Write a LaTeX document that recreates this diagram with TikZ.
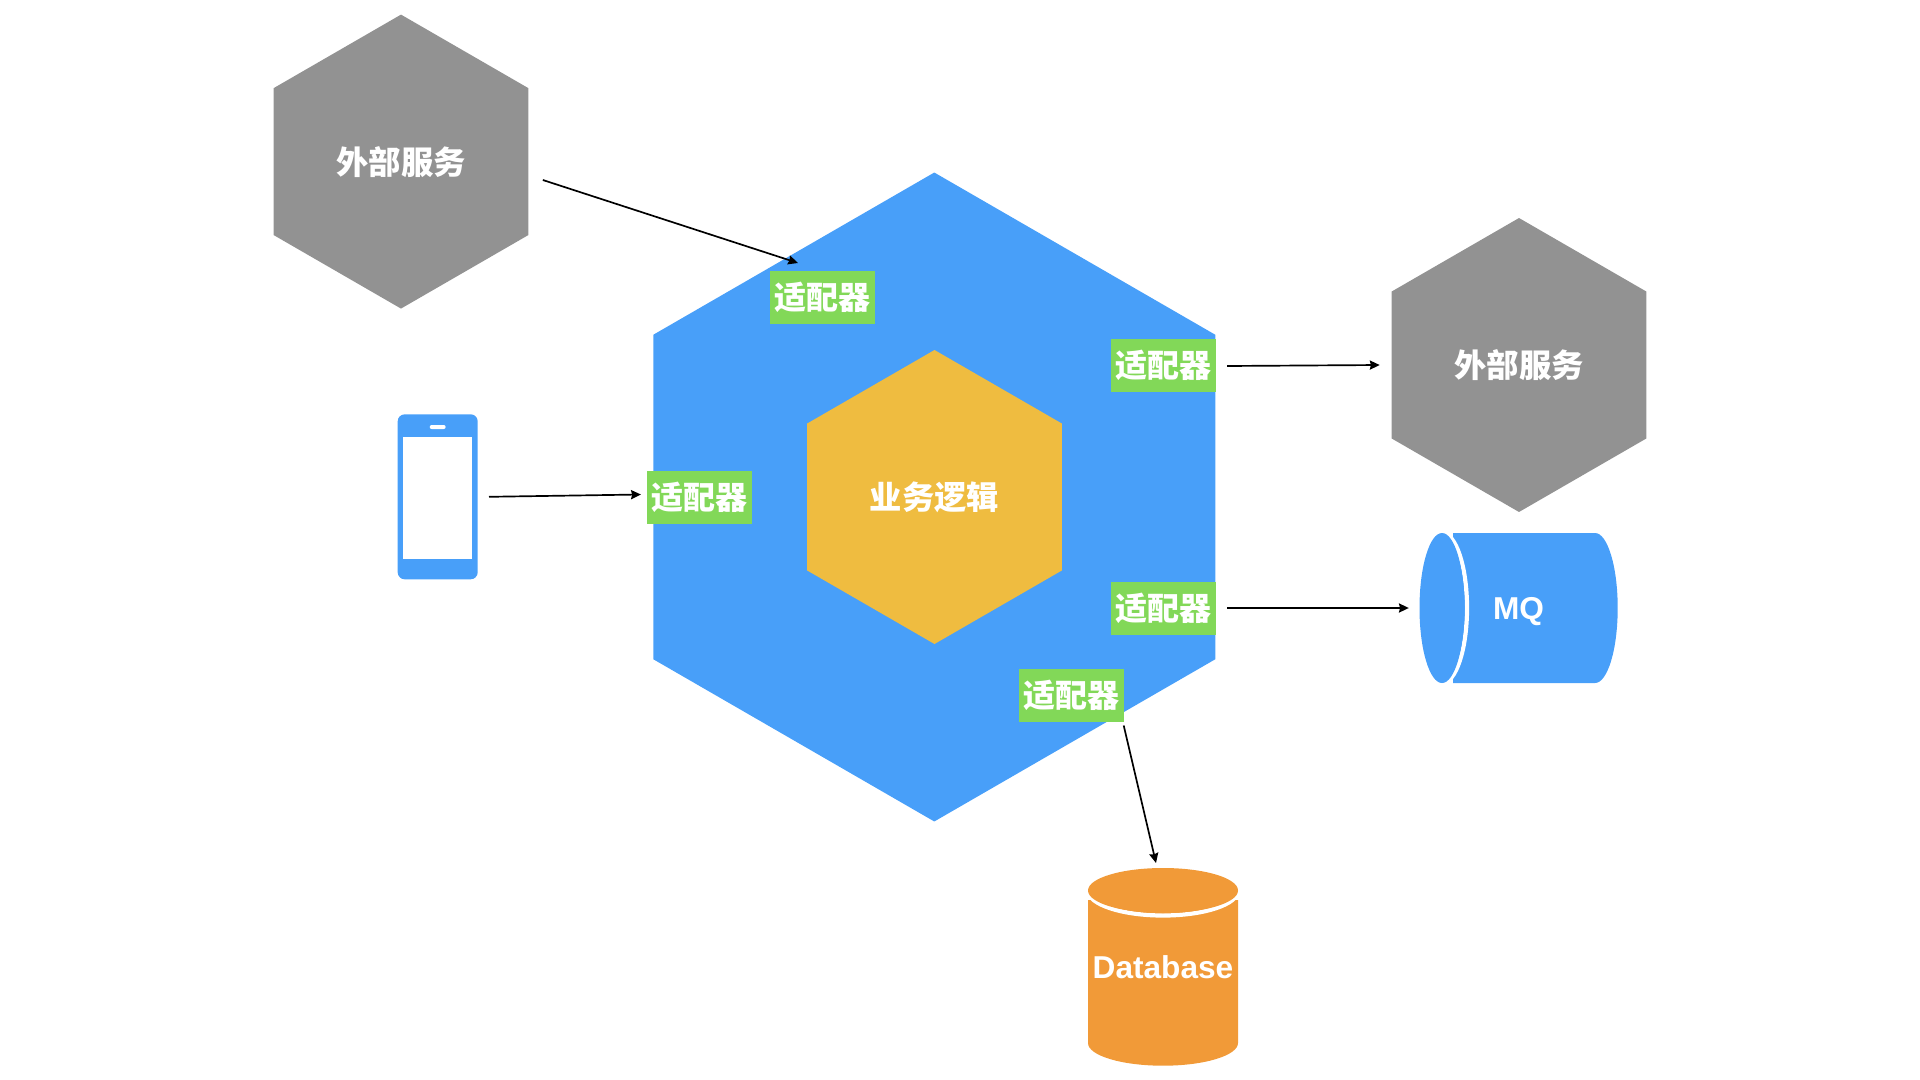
\documentclass[tikz,border=0pt]{standalone}
\usepackage{fontspec}
\newfontfamily\cjkfont{Noto Sans CJK SC}
\newfontfamily\latinfont{Liberation Sans}
\usetikzlibrary{shapes.geometric,arrows.meta}
\definecolor{hexblue}{HTML}{489FF9}
\definecolor{hexyellow}{HTML}{EFBC40}
\definecolor{hexgray}{HTML}{929292}
\definecolor{adgreen}{HTML}{82D858}
\definecolor{dborange}{HTML}{F19A38}
\tikzset{
  hexnode/.style={regular polygon,regular polygon sides=6,shape border rotate=30,inner sep=0pt,outer sep=0pt,text=white,font=\cjkfont\bfseries\fontsize{46}{50}\selectfont},
  adapter/.style={fill=adgreen,inner sep=0pt,outer sep=0pt,minimum width=5.25cm,minimum height=2.65cm,text=white,font=\cjkfont\bfseries\fontsize{45.5}{50}\selectfont},
  flow/.style={draw=black,line width=2.4pt,-{Stealth[length=14pt,width=13pt,inset=1.5pt]}},
  latinlabel/.style={text=white,inner sep=0pt,outer sep=0pt,font=\latinfont\bfseries\fontsize{45}{50}\selectfont},
  shellbox/.style={inner sep=0pt,outer sep=0pt}
}
\begin{document}
\begin{tikzpicture}[x=0.05cm,y=-0.05cm]
\useasboundingbox (0,0) rectangle (1920,1080);
% hexagons
\node[hexnode,fill=hexblue,minimum size=32.45cm] (core) at (934.3,497) {};
\node[hexnode,fill=hexyellow,minimum size=14.7cm] (logic) at (934.5,497) {业务逻辑};
\node[hexnode,fill=hexgray,minimum size=14.7cm] (extA) at (401,161.6) {外部服务};
\node[hexnode,fill=hexgray,minimum size=14.7cm] (extB) at (1519,365) {外部服务};
% adapters
\node[adapter] (adT) at (822.5,297.5) {适配器};
\node[adapter] (adL) at (699.7,497) {适配器};
\node[adapter] (adR) at (1163.7,365.5) {适配器};
\node[adapter] (adM) at (1163.7,608.5) {适配器};
\node[adapter] (adB) at (1071.7,695) {适配器};
% phone
\node[fill=hexblue,rounded corners=0.35cm,inner sep=0pt,outer sep=0pt,minimum width=4cm,minimum height=8.25cm] (phone) at (437.7,496.8) {};
\node[fill=white,inner sep=0pt,minimum width=3.46cm,minimum height=6.12cm] (screen) at (437.7,498.2) {};
\node[fill=white,rounded corners=0.1cm,inner sep=0pt,minimum width=0.8cm,minimum height=0.2cm] (speaker) at (437.7,427) {};
% MQ cylinder
\node[shellbox,minimum width=9.9cm,minimum height=7.5cm] (mq) at (1518.8,608) {};
\fill[hexblue] (1453,533) -- (1595,533) arc[start angle=-90,end angle=90,x radius=22.7,y radius=75] -- (1453,683) -- cycle;
\draw[white,line width=6pt] (1442,533) arc[start angle=-90,end angle=90,x radius=25,y radius=75];
\fill[hexblue] (1442,608) ellipse[x radius=22.5,y radius=75];
\node[latinlabel] (mqtext) at (1518.5,612) {MQ};
% database cylinder
\node[shellbox,minimum width=7.5cm,minimum height=9.9cm] (db) at (1163,967) {};
\fill[dborange] (1088,900) -- (1238,900) -- (1238,1043) arc[start angle=0,end angle=180,x radius=75,y radius=22.7] -- cycle;
\draw[white,line width=6pt] (1088,890.5) arc[start angle=180,end angle=0,x radius=75,y radius=25];
\fill[dborange] (1163,890.5) ellipse[x radius=75,y radius=22.5];
\node[latinlabel] (dbtext) at (1163,967) {Database};
% connectors
\draw[flow] ([shift={(14.5,18.4)}]extA.east) -- ([shift={(-24.5,-8)}]adT.north);
\draw[flow] ([shift={(11.3,0)}]phone.east) -- ([shift={(-6.3,-2.5)}]adL.west);
\draw[flow] ([shift={(11,0.5)}]adR.east) -- ([shift={(-12,0)}]extB.west);
\draw[flow] ([shift={(11,-0.5)}]adM.east) -- ([shift={(-11,0)}]mq.west);
\draw[flow] ([shift={(-0.5,4)}]adB.south east) -- ([shift={(-7,-5)}]db.north);
\end{tikzpicture}
\end{document}
